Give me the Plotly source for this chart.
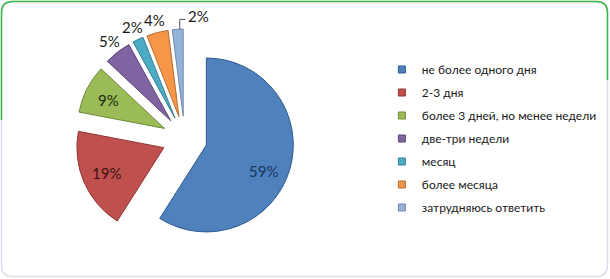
import math
import plotly.graph_objects as go

categories = ["не более одного дня", "2-3 дня", "более 3 дней, но менее недели",
              "две-три недели", "месяц", "более месяца", "затрудняюсь ответить"]
values = [59, 19, 9, 5, 2, 4, 2]
colors = ["#4F81BD", "#C0504D", "#9BBB59", "#8064A2", "#4BACC6", "#F79646", "#95B3D7"]
edge_colors = ["#2f5a8f", "#8c3836", "#6e8a3a", "#5c4776", "#357d91", "#b66d31", "#6e87b5"]
text_colors = ["#17375E", "#3b1312", "#1d2a0f", "#1a1a1a", "#1a1a1a", "#1a1a1a", "#1a1a1a"]
label_inside = [True, True, True, False, False, False, False]
label_turn_deg = [6, 0, 0, 0, 0, 0, 10]
pulls = [0.26] * 7

W, H = 610, 279
FONT = "Lato"
DOM_X = [0.1230, 0.4823]
DOM_Y = [0.110, 0.896]

fig = go.Figure()
fig.add_trace(go.Pie(
    labels=categories, values=values, sort=False, direction="clockwise", rotation=0,
    pull=pulls,
    marker=dict(colors=colors, line=dict(color=edge_colors, width=1)),
    textinfo="none",
    domain=dict(x=DOM_X, y=DOM_Y),
    showlegend=False, automargin=False,
))

# legend entries (one group per category so the spacing can be set)
for i, (c, col) in enumerate(zip(categories, colors)):
    fig.add_trace(go.Scatter(
        x=[None], y=[None], mode="markers", name=c, legendgroup=f"g{i}",
        marker=dict(symbol="square", size=7, color=col, line=dict(color=edge_colors[i], width=1)),
        showlegend=True,
    ))


def px(x):
    return x / W


def py(y):
    return 1 - y / H


# pie geometry in pixels, following plotly's own layout of the domain
cx = W * (DOM_X[0] + DOM_X[1]) / 2
box_w = W * (DOM_X[1] - DOM_X[0])
box_h = H * (DOM_Y[1] - DOM_Y[0])
cy = H * (1 - DOM_Y[0]) - box_h / 2
R = min(box_w, box_h) / (2 + 2 * max(pulls))

total = sum(values)
annotations = []
shapes = []
cum = 0
for i, v in enumerate(values):
    mid = (cum + v / 2) / total * 2 * math.pi
    cum += v
    pct = f"{round(v / total * 100)}%"
    d = pulls[i] * R
    dist = d + 0.72 * R if label_inside[i] else 123
    ang = mid + math.radians(label_turn_deg[i])
    lx = cx + dist * math.sin(ang)
    ly = cy - dist * math.cos(ang)
    annotations.append(dict(x=px(lx), y=py(ly), xref="paper", yref="paper", text=pct,
                            showarrow=False, xanchor="center", yanchor="middle",
                            font=dict(family=FONT, size=15, color=text_colors[i])))
    if i == len(values) - 1:
        sx = cx + (d + R) * math.sin(mid) + 2
        sy = cy - (d + R) * math.cos(mid)
        path = (f"M{px(sx)},{py(sy)} L{px(sx)},{py(ly + 3)} L{px(lx - 13)},{py(ly + 3)}")
        shapes.append(dict(type="path", xref="paper", yref="paper", path=path,
                           line=dict(color="#555555", width=1)))

# rounded frame
x0, y0, x1, y1, r = 1.5, 1.5, 607.5, 276.5, 11
frame = (f"M{px(x0+r)},{py(y0)} L{px(x1-r)},{py(y0)} Q{px(x1)},{py(y0)} {px(x1)},{py(y0+r)} "
         f"L{px(x1)},{py(y1-r)} Q{px(x1)},{py(y1)} {px(x1-r)},{py(y1)} L{px(x0+r)},{py(y1)} "
         f"Q{px(x0)},{py(y1)} {px(x0)},{py(y1-r)} L{px(x0)},{py(y0+r)} Q{px(x0)},{py(y0)} {px(x0+r)},{py(y0)} Z")
green = (f"M{px(x0)},{py(120)} L{px(x0)},{py(y0+r)} Q{px(x0)},{py(y0)} {px(x0+r)},{py(y0)} "
         f"L{px(x1-r)},{py(y0)} Q{px(x1)},{py(y0)} {px(x1)},{py(y0+r)} L{px(x1)},{py(80)}")
shapes = [
    dict(type="path", xref="paper", yref="paper", path=frame,
         line=dict(color="#d9dfe9", width=1.5), layer="below"),
    dict(type="path", xref="paper", yref="paper", path=green,
         line=dict(color="#3db54a", width=1.5), layer="below"),
] + shapes

fig.update_layout(
    width=W, height=H, margin=dict(l=0, r=0, t=0, b=0),
    paper_bgcolor="white", plot_bgcolor="white",
    xaxis=dict(visible=False), yaxis=dict(visible=False),
    legend=dict(x=0.626, y=1 - 55 / H, xanchor="left", yanchor="top",
                font=dict(family=FONT, size=12, color="#1a1a1a"),
                tracegroupgap=4, bgcolor="rgba(0,0,0,0)"),
    shapes=shapes,
    annotations=annotations,
)

fig.write_html("out.html")
